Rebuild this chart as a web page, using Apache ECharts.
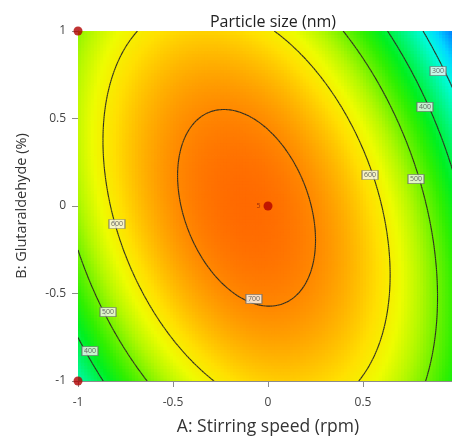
<!DOCTYPE html>
<html>
<head>
<meta charset="utf-8">
<script src="https://cdn.jsdelivr.net/npm/echarts@6/dist/echarts.min.js"></script>
<style>
  html, body { margin: 0; padding: 0; background: #fff; }
  #chart { width: 452px; height: 438px; }
</style>
</head>
<body>
<div id="chart"></div>
<script>
// quadratic response model in coded units (A, B), estimated from the contours
const modelTerms = ["Intercept", "A", "B", "AB", "A^2", "B^2"];
const modelCoefficients = [726.6, -58.7, -14.4, -108, -255, -106.4];
const contourLevels = [200, 300, 400, 500, 600, 700];
const axisTicks = [-1, -0.5, 0, 0.5, 1];

// contour label boxes
const labelA = [0.895, 0.826, 0.537, 0.779, -0.795, -0.074, -0.842, -0.937];
const labelB = [0.771, 0.566, 0.177, 0.154, -0.103, -0.531, -0.606, -0.829];
const labelText = [300, 400, 600, 500, 600, 700, 500, 400];

// design points (center point has 5 runs)
const designA = [0, -1, -1];
const designB = [0, 1, -1];
const designRuns = [5, 1, 1];

// blue -> cyan -> green -> yellow -> red, from 180 to 740
const colorStops = [
  "#0058ff", "#0098ff", "#00d8ff", "#00fce0", "#00f8a0", "#00f460", "#00f020",
  "#30f000", "#70f200", "#b4f800", "#eefc00", "#ffe000", "#ffb400", "#ff8800", "#ff6000"
];

const predict = (a, b) => {
  const c = modelCoefficients;
  return c[0] + c[1] * a + c[2] * b + c[3] * a * b + c[4] * a * a + c[5] * b * b;
};

// filled surface cells
const NX = 120, NY = 110;
const cellW = 2 / NX, cellH = 2 / NY;
const surfaceData = [];
for (let i = 0; i < NX; i++) {
  for (let j = 0; j < NY; j++) {
    const a = -1 + (i + 0.5) * cellW;
    const b = -1 + (j + 0.5) * cellH;
    surfaceData.push([a, b, predict(a, b)]);
  }
}

// contour segments by marching squares
const N = 160;
const step = 2 / N;
const contourData = [];
const lerp = (p, q, vp, vq, lv) => {
  const t = (lv - vp) / (vq - vp);
  return [p[0] + t * (q[0] - p[0]), p[1] + t * (q[1] - p[1])];
};
for (let i = 0; i < N; i++) {
  for (let j = 0; j < N; j++) {
    const x0 = -1 + i * step, x1 = x0 + step;
    const y0 = -1 + j * step, y1 = y0 + step;
    const c = [[x0, y0], [x1, y0], [x1, y1], [x0, y1]];
    const v = c.map((p) => predict(p[0], p[1]));
    contourLevels.forEach((lv) => {
      const pts = [];
      for (let k = 0; k < 4; k++) {
        const k2 = (k + 1) % 4;
        if ((v[k] < lv) !== (v[k2] < lv)) pts.push(lerp(c[k], c[k2], v[k], v[k2], lv));
      }
      for (let k = 0; k + 1 < pts.length; k += 2) {
        contourData.push([pts[k][0], pts[k][1], pts[k + 1][0], pts[k + 1][1]]);
      }
    });
  }
}

const chart = echarts.init(document.getElementById("chart"));
const font = "'Open Sans', 'Noto Sans', sans-serif";

chart.setOption({
  animation: false,
  title: {
    text: "Particle size (nm)",
    left: 268,
    textAlign: "center",
    top: 9,
    textStyle: { fontFamily: font, fontSize: 16, fontWeight: "normal", color: "#222" },
  },
  // plot runs past the right edge of the picture (A = 1 sits at x = 458)
  grid: { left: 78, top: 31, width: 380, height: 350, outerBoundsMode: "none", containLabel: false },
  visualMap: {
    show: false,
    type: "continuous",
    seriesIndex: 0,
    dimension: 2,
    min: 180,
    max: 740,
    inRange: { color: colorStops },
  },
  xAxis: {
    type: "value",
    min: -1,
    max: 1,
    interval: 0.5,
    name: "A: Stirring speed (rpm)",
    nameLocation: "middle",
    nameGap: 37,
    nameTextStyle: { fontFamily: font, fontSize: 17.5, color: "#333" },
    axisLine: { show: true, onZero: false, lineStyle: { color: "#8c8c8c" } },
    axisTick: { show: true, length: 6, lineStyle: { color: "#8c8c8c" } },
    axisLabel: {
      margin: 16,
      fontFamily: font,
      fontSize: 12,
      color: "#444",
      formatter: (v) => (axisTicks.includes(v) ? String(v) : ""),
    },
    splitLine: { show: false },
  },
  yAxis: {
    type: "value",
    min: -1,
    max: 1,
    interval: 0.5,
    name: "B: Glutaraldehyde (%)",
    nameLocation: "middle",
    nameGap: 49,
    nameTextStyle: { fontFamily: font, fontSize: 14.5, color: "#333" },
    axisLine: { show: true, onZero: false, lineStyle: { color: "#8c8c8c" } },
    axisTick: { show: true, length: 6, lineStyle: { color: "#8c8c8c" } },
    axisLabel: { margin: 12, fontFamily: font, fontSize: 12, color: "#444" },
    splitLine: { show: false },
  },
  series: [
    {
      type: "custom",
      data: surfaceData,
      encode: { x: 0, y: 1 },
      silent: true,
      progressive: 0,
      clip: true,
      renderItem(params, api) {
        const a = api.value(0), b = api.value(1);
        const p = api.coord([a - cellW / 2, b + cellH / 2]);
        const s = api.size([cellW, cellH]);
        return {
          type: "rect",
          shape: { x: p[0], y: p[1], width: s[0] + 0.8, height: s[1] + 0.8 },
          style: { fill: api.visual("color") },
        };
      },
    },
    {
      type: "custom",
      data: contourData,
      encode: { x: [0, 2], y: [1, 3] },
      silent: true,
      progressive: 0,
      clip: true,
      z: 3,
      renderItem(params, api) {
        const p1 = api.coord([api.value(0), api.value(1)]);
        const p2 = api.coord([api.value(2), api.value(3)]);
        return {
          type: "line",
          shape: { x1: p1[0], y1: p1[1], x2: p2[0], y2: p2[1] },
          style: { stroke: "#2e2e22", lineWidth: 1.1 },
        };
      },
    },
    {
      type: "scatter",
      data: labelA.map((a, i) => [a, labelB[i], labelText[i]]),
      symbol: "rect",
      symbolSize: [16, 9],
      silent: true,
      z: 5,
      itemStyle: { color: "#f6f6f6", borderColor: "#6a6a6a", borderWidth: 0.9 },
      label: {
        show: true,
        position: "inside",
        formatter: (p) => p.value[2],
        fontFamily: font,
        fontSize: 7,
        color: "#444",
      },
    },
    {
      type: "scatter",
      data: designA.map((a, i) => [a, designB[i], designRuns[i]]),
      symbolSize: 9,
      clip: false,
      silent: true,
      z: 6,
      itemStyle: { color: "#b00000" },
      label: {
        show: true,
        position: "left",
        distance: 3,
        formatter: (p) => (p.value[2] > 1 ? p.value[2] : ""),
        fontFamily: font,
        fontSize: 7,
        color: "#7a1a10",
      },
    },
  ],
});
</script>
</body>
</html>
